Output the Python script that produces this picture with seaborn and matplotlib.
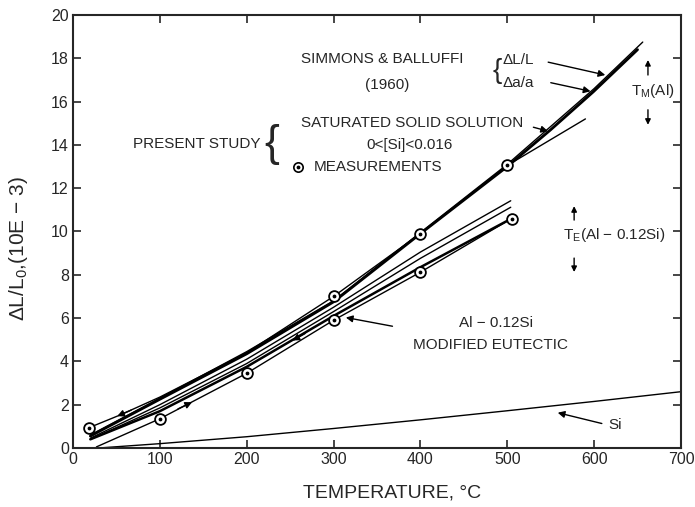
import numpy as np
import pandas as pd
import seaborn as sns
import matplotlib.pyplot as plt

# Simmons & Balluffi (1960)
sb_dl_t = [20, 100, 200, 300, 400, 500, 550, 600, 656]
sb_dl_y = [0.6, 2.3, 4.45, 6.8, 9.95, 13.1, 14.85, 16.6, 18.75]
sb_da_t = [20, 100, 200, 300, 400, 500, 550, 599, 650]
sb_da_y = [0.55, 2.25, 4.35, 6.75, 9.9, 13.0, 14.7, 16.45, 18.4]

# saturated solid solution, present study
sat_t = [18, 54, 100, 200, 300, 400, 500, 590]
sat_y = [0.93, 1.52, 2.35, 4.4, 7.0, 9.9, 13.05, 15.2]
sat_meas_t = [18, 300, 400, 500]
sat_meas_y = [0.93, 7.0, 9.9, 13.05]

# Al - 0.12Si modified eutectic
eut_up_t = [20, 100, 200, 300, 400, 504]
eut_up_y = [0.45, 2.0, 4.1, 6.5, 9.05, 11.42]
eut_lo_t = [20, 100, 200, 300, 400, 504]
eut_lo_y = [0.4, 1.85, 3.9, 6.3, 8.76, 11.12]
eut_cool_t = [20, 100, 200, 300, 400, 505]
eut_cool_y = [0.4, 1.7, 3.75, 6.1, 8.35, 10.6]
eut_heat_t = [27, 100, 200, 300, 400, 505]
eut_heat_y = [0.05, 1.35, 3.45, 5.9, 8.12, 10.6]
eut_meas_t = [100, 200, 300, 400, 505]
eut_meas_y = [1.35, 3.45, 5.9, 8.12, 10.6]

# silicon
si_t = [30, 100, 200, 300, 400, 500, 600, 700]
si_y = [0.0, 0.2, 0.52, 0.9, 1.3, 1.72, 2.15, 2.6]

sns.set_style("ticks")
plt.rcParams['font.family'] = ['Liberation Sans', 'DejaVu Sans']
plt.rcParams['mathtext.fontset'] = 'custom'
plt.rcParams['mathtext.rm'] = 'Liberation Sans'

fig = plt.figure(figsize=(6.95, 5.07), dpi=100)
ax = fig.add_axes([0.105, 0.1164, 0.8748, 0.854])

lines = [
    (sb_dl_t, sb_dl_y, 1.0),
    (sb_da_t, sb_da_y, 2.0),
    (sat_t, sat_y, 1.0),
    (eut_up_t, eut_up_y, 1.0),
    (eut_lo_t, eut_lo_y, 1.0),
    (eut_cool_t, eut_cool_y, 1.8),
    (eut_heat_t, eut_heat_y, 1.0),
    (si_t, si_y, 1.0),
]
for t, y, lw in lines:
    sns.lineplot(x=t, y=y, ax=ax, color='black', lw=lw, sort=False)

for t, y in [(sat_meas_t, sat_meas_y), (eut_meas_t, eut_meas_y)]:
    ax.scatter(t, y, s=60, facecolor='white', edgecolor='black', lw=1.3, zorder=5)
    ax.scatter(t, y, s=3, color='black', zorder=6)

arrow = dict(arrowstyle='-|>', color='black', lw=1, mutation_scale=10)
small_arrow = dict(arrowstyle='-|>', color='black', lw=1, mutation_scale=8)

# direction arrows on the curves
for (x0, y0), (x1, y1) in [((70, 1.8), (48, 1.42)),
                           ((118, 1.75), (140, 2.17)),
                           ((270, 5.35), (250, 4.9))]:
    ax.annotate('', xy=(x1, y1), xytext=(x0, y0), arrowprops=arrow)

ax.set_xlim(0, 700)
ax.set_ylim(0, 20)
ax.set_xticks(np.arange(0, 701, 100))
ax.set_yticks(np.arange(0, 21, 2))
ax.tick_params(direction='in', top=True, right=True, length=6, width=1.2,
               labelsize=11.5, pad=3)
for s in ax.spines.values():
    s.set_linewidth(1.5)
    s.set_visible(True)

ax.set_xlabel('TEMPERATURE, °C', fontsize=14)
ax.xaxis.set_label_coords(0.525, -0.085)
ax.set_ylabel(r'ΔL/L$_\mathregular{0}$,(10E − 3)', fontsize=15)
ax.yaxis.set_label_coords(-0.07, 0.46)

fs = 11
ax.text(356, 17.95, 'SIMMONS & BALLUFFI', fontsize=fs, ha='center', va='center')
ax.text(362, 16.75, '(1960)', fontsize=fs, ha='center', va='center')
ax.text(488, 17.4, '{', fontsize=20, ha='center', va='center', fontweight='light')
ax.text(495, 17.9, 'ΔL/L', fontsize=fs, ha='left', va='center')
ax.text(495, 16.85, 'Δa/a', fontsize=fs, ha='left', va='center')
ax.annotate('', xy=(616, 17.2), xytext=(544, 17.85), arrowprops=arrow)
ax.annotate('', xy=(599, 16.45), xytext=(547, 16.9), arrowprops=arrow)

ax.text(668, 16.5, r'T$_\mathregular{M}$(Al)', fontsize=fs, ha='center', va='center')
ax.annotate('', xy=(662, 18.05), xytext=(662, 17.1), arrowprops=small_arrow)
ax.annotate('', xy=(662, 14.8), xytext=(662, 15.75), arrowprops=small_arrow)

ax.text(623, 9.84, r'T$_\mathregular{E}$(Al − 0.12Si)', fontsize=fs, ha='center', va='center')
ax.annotate('', xy=(577, 11.3), xytext=(577, 10.4), arrowprops=small_arrow)
ax.annotate('', xy=(577, 8.0), xytext=(577, 8.9), arrowprops=small_arrow)

ax.text(143, 14.05, 'PRESENT STUDY', fontsize=fs, ha='center', va='center')
ax.text(229, 14.0, '{', fontsize=32, ha='center', va='center', fontweight='light')
ax.text(390, 15.0, 'SATURATED SOLID SOLUTION', fontsize=fs, ha='center', va='center')
ax.text(387, 14.0, '0<[Si]<0.016', fontsize=fs, ha='center', va='center')
ax.text(277, 12.98, 'MEASUREMENTS', fontsize=fs, ha='left', va='center')
ax.scatter([259], [12.98], s=45, facecolor='white', edgecolor='black', lw=1.2)
ax.scatter([259], [12.98], s=3, color='black')
ax.annotate('', xy=(550, 14.6), xytext=(527, 14.85), arrowprops=arrow)

ax.text(487, 5.77, 'Al − 0.12Si', fontsize=fs, ha='center', va='center')
ax.text(481, 4.76, 'MODIFIED EUTECTIC', fontsize=fs, ha='center', va='center')
ax.annotate('', xy=(311, 6.05), xytext=(371, 5.6), arrowprops=arrow)

ax.text(616, 1.06, 'Si', fontsize=fs, ha='left', va='center')
ax.annotate('', xy=(555, 1.66), xytext=(612, 1.1), arrowprops=arrow)

fig.savefig('out.png', dpi=100)
